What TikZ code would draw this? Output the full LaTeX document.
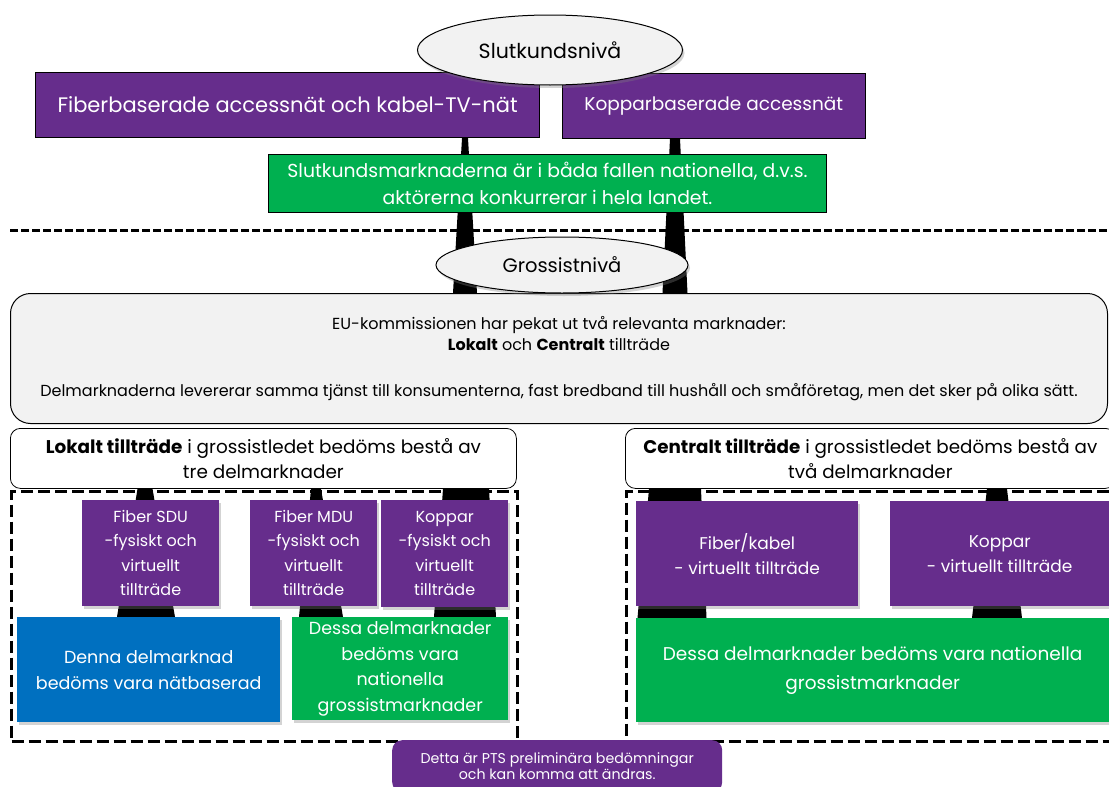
\documentclass[tikz,border=0pt]{standalone}
\usepackage{fontspec}
\setmainfont{Poppins}
\usetikzlibrary{shapes.geometric,shadows,backgrounds,calc}
\definecolor{pur}{RGB}{102,45,140}
\definecolor{grn}{RGB}{0,176,80}
\definecolor{blu}{RGB}{0,112,192}
\definecolor{lgray}{RGB}{242,242,242}
\newcommand\fs[2]{\fontsize{#1}{#2}\selectfont}
\newcommand\taper[4]{\fill[black] let \p1=#1, \p2=#2 in (\x1-#3/2,\y1) -- (\x1+#3/2,\y1) -- (\x2+#4/2,\y2) -- (\x2-#4/2,\y2) -- cycle;}
\begin{document}
\begin{tikzpicture}[x=1pt,y=-1pt,
 base/.style={rectangle, inner sep=0pt, align=center, anchor=north west},
 sh/.style={drop shadow={opacity=0.35, shadow xshift=2pt, shadow yshift=-3pt}},
 topbox/.style={base, fill=pur, text=white, draw=black, line width=1.2pt},
 pbox/.style={base, fill=pur, text=white, sh},
 gbox/.style={base, fill=grn, text=white, sh},
 oval/.style={ellipse, draw=black, line width=1pt, fill=lgray, inner sep=0pt, sh},
 frame/.style={base, draw=black, line width=3pt, dash pattern=on 12pt off 5pt},
 headbox/.style={base, draw=black, line width=0.8pt, fill=white, rounded corners=10pt},
 sepline/.style={line width=3pt, dash pattern=on 8pt off 3pt},
]
\useasboundingbox (0,0) rectangle (1109,787);
% top level
\node[topbox, minimum width=504pt, minimum height=65pt, font=\fs{21}{25}] (fib) at (35,72) {Fiberbaserade accessnät och kabel-TV-nät};
\node[topbox, line width=0.6pt, minimum width=303pt, minimum height=65pt, font=\fs{18.5}{22}] (kop) at (562,73) {Kopparbaserade accessnät};
\node[oval, minimum width=265pt, minimum height=70pt, font=\fs{20.5}{22}] (slut) at (550,50) {Slutkundsnivå};
\node[base, fill=grn, text=white, draw=black, line width=1pt, minimum width=558pt, minimum height=58pt, font=\fs{18.8}{27}] (gtop) at (268,154) {Slutkundsmarknaderna är i båda fallen nationella, d.v.s.\\aktörerna konkurrerar i hela landet.};
% separator
\coordinate (sepL) at (10,230);
\coordinate (sepR) at (1109,230);
\draw[sepline] (sepL) -- (sepR);
% wholesale level
\node[base, fill=lgray, draw=black, line width=1pt, rounded corners=20pt, minimum width=1097pt, minimum height=130pt, font=\fs{16}{21.5}] (eu) at (10,293) {EU-kommissionen har pekat ut två relevanta marknader:\\\textbf{Lokalt} och \textbf{Centralt} tillträde\\[24pt]Delmarknaderna levererar samma tjänst till konsumenterna, fast bredband till hushåll och småföretag, men det sker på olika sätt.};
\node[oval, minimum width=252pt, minimum height=56pt, font=\fs{19.5}{22}] (gross) at (562,265) {Grossistnivå};
% frames
\node[frame, minimum width=506pt, minimum height=250pt] (lokframe) at (10,490) {};
\node[frame, minimum width=490pt, minimum height=250pt] (cenframe) at (625,490) {};
\node[headbox, minimum width=506pt, minimum height=60pt, font=\fs{18.4}{25}] (lok) at (10,428) {\textbf{Lokalt tillträde} i grossistledet bedöms bestå av\\tre delmarknader};
\node[headbox, minimum width=490pt, minimum height=60pt, font=\fs{18.3}{25}] (cen) at (625,428) {\textbf{Centralt tillträde} i grossistledet bedöms bestå av\\två delmarknader};
% local submarkets
\node[pbox, minimum width=137pt, minimum height=106pt, font=\fs{16}{24.5}] (sdu) at (82,500) {Fiber SDU\\-fysiskt och\\virtuellt\\tillträde};
\node[pbox, minimum width=127pt, minimum height=106pt, font=\fs{16}{24.5}] (mdu) at (250,500) {Fiber MDU\\-fysiskt och\\virtuellt\\tillträde};
\node[pbox, minimum width=127pt, minimum height=107pt, font=\fs{16}{24.5}] (kopl) at (381,500) {Koppar\\-fysiskt och\\virtuellt\\tillträde};
\node[base, fill=blu, text=white, sh, minimum width=263pt, minimum height=105pt, font=\fs{17.5}{26}] (blue) at (17,617) {Denna delmarknad\\bedöms vara nätbaserad};
\node[gbox, minimum width=216pt, minimum height=103pt, font=\fs{17.5}{25.5}] (gleft) at (292,617) {Dessa delmarknader\\bedöms vara\\nationella\\grossistmarknader};
% central submarkets
\node[pbox, minimum width=222pt, minimum height=105pt, font=\fs{17}{25}] (fk) at (636,501) {Fiber/kabel\\- virtuellt tillträde};
\node[pbox, minimum width=219pt, minimum height=105pt, font=\fs{17}{25}] (kopr) at (890,501) {Koppar\\- virtuellt tillträde};
\node[gbox, minimum width=473pt, minimum height=104pt, font=\fs{18.5}{29}] (gright) at (636,618) {Dessa delmarknader bedöms vara nationella\\grossistmarknader};
% note
\node[base, fill=pur, text=white, rounded corners=10pt, minimum width=330pt, minimum height=52pt, font=\fs{14.2}{16}] (note) at (392,740) {Detta är PTS preliminära bedömningar\\och kan komma att ändras.};
% tapered connectors
\begin{pgfonlayer}{background}
\taper{($(fib.south west)+(430,0)$)}{($(eu.north west)+(455,0)$)}{6}{24}
\taper{($(kop.south west)+(113,0)$)}{($(eu.north west)+(665,0)$)}{10}{25}
\taper{($(lok.south west)+(135,0)$)}{($(blue.north west)+(129,0)$)}{15}{58}
\taper{($(lok.south west)+(306,0)$)}{($(gleft.north west)+(29,0)$)}{10}{44}
\taper{($(lok.south west)+(456,0)$)}{($(gleft.north west)+(173,0)$)}{46}{62}
\taper{($(cen.south west)+(50,0)$)}{($(gright.north west)+(36,0)$)}{52}{69}
\taper{($(cen.south west)+(372,0)$)}{($(gright.north west)+(361,0)$)}{20}{50}
\end{pgfonlayer}
\end{tikzpicture}
\end{document}
